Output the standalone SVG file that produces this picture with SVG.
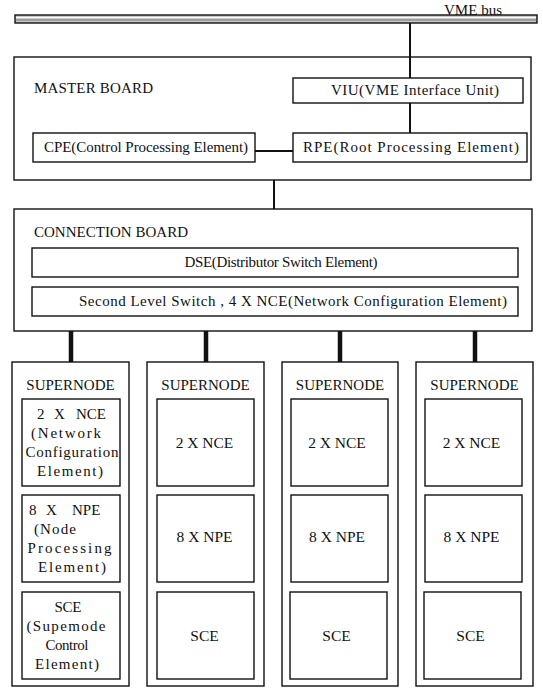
<svg xmlns="http://www.w3.org/2000/svg" width="543" height="689" viewBox="0 0 543 689">
<style>
text{font-family:"Liberation Serif","Times New Roman",serif;font-size:15px;fill:#111;}
.c{text-anchor:middle;}
.s{font-size:15.5px;}
.box{fill:#fff;stroke:#111;stroke-width:1.4;}
.line{stroke:#111;stroke-width:2;fill:none;}
.thick{stroke:#111;stroke-width:4.5;fill:none;}
</style>
<rect width="543" height="689" fill="#fff"/>
<g id="vme-bus">
<rect x="15" y="15" width="522" height="8" fill="#c8c8c8" stroke="#111" stroke-width="1.4"/>
<line x1="16" y1="17.5" x2="536" y2="17.5" stroke="#fff" stroke-width="1"/>
<line x1="16" y1="20" x2="536" y2="20" stroke="#777" stroke-width="1"/>
<text x="444" y="15" textLength="58" lengthAdjust="spacing">VME bus</text>
</g>
<g id="master-board">
<rect class="box" x="14" y="57" width="517" height="123"/>
<text x="34" y="93" textLength="119" lengthAdjust="spacing">MASTER BOARD</text>
</g>
<g id="viu">
<rect class="box" x="293" y="78" width="230" height="25"/>
<text class="c" x="415" y="95" textLength="168" lengthAdjust="spacing">VIU(VME Interface Unit)</text>
</g>
<g id="cpe">
<rect class="box" x="33" y="133" width="222" height="29"/>
<text class="c" x="146" y="152" textLength="204" lengthAdjust="spacing">CPE(Control Processing Element)</text>
</g>
<g id="rpe">
<rect class="box" x="293" y="133" width="234" height="29"/>
<text class="c" x="411" y="152" textLength="216" lengthAdjust="spacing">RPE(Root Processing Element)</text>
</g>
<g id="connection-board">
<rect class="box" x="14" y="209" width="518" height="122"/>
<text x="34" y="237" textLength="154" lengthAdjust="spacing">CONNECTION BOARD</text>
</g>
<g id="dse">
<rect class="box" x="32" y="248" width="486" height="29"/>
<text class="c" x="281" y="267" textLength="193" lengthAdjust="spacing">DSE(Distributor Switch Element)</text>
</g>
<g id="second-level-switch">
<rect class="box" x="32" y="287" width="486" height="29"/>
<text class="c" x="293" y="306" textLength="428" lengthAdjust="spacing">Second Level Switch , 4 X NCE(Network Configuration Element)</text>
</g>
<g id="supernode-1">
<rect class="box" x="12" y="362" width="117" height="324"/>
<text class="c" x="70.5" y="390">SUPERNODE</text>
<rect class="box" x="22" y="399" width="98" height="87"/>
<text y="419"><tspan x="37">2</tspan><tspan x="54">X</tspan><tspan x="76">NCE</tspan></text>
<text class="c" x="66" y="438" textLength="70" lengthAdjust="spacing">(Network</text>
<text class="c" x="72" y="457" textLength="93" lengthAdjust="spacing">Configuration</text>
<text class="c" x="70" y="476" textLength="66" lengthAdjust="spacing">Element)</text>
<rect class="box" x="22" y="495" width="98" height="87"/>
<text y="515"><tspan x="29">8</tspan><tspan x="46">X</tspan><tspan x="72">NPE</tspan></text>
<text x="34" y="534" textLength="42" lengthAdjust="spacing">(Node</text>
<text class="c" x="69.5" y="553" textLength="84" lengthAdjust="spacing">Processing</text>
<text class="c" x="72" y="572" textLength="68" lengthAdjust="spacing">Element)</text>
<rect class="box" x="22" y="592" width="98" height="87"/>
<text class="c" x="68" y="612" textLength="27" lengthAdjust="spacing">SCE</text>
<text class="c" x="66" y="631" textLength="79" lengthAdjust="spacing">(Supemode</text>
<text class="c" x="67" y="650" textLength="43" lengthAdjust="spacing">Control</text>
<text class="c" x="67" y="669" textLength="64" lengthAdjust="spacing">Element)</text>
</g>
<g id="supernode-2">
<rect class="box" x="147" y="362" width="117" height="324"/>
<text class="c" x="205.5" y="390">SUPERNODE</text>
<rect class="box" x="157" y="399" width="97" height="87"/>
<text class="c s" x="204.5" y="448">2 X NCE</text>
<rect class="box" x="157" y="495" width="97" height="87"/>
<text class="c s" x="204.5" y="542">8 X NPE</text>
<rect class="box" x="157" y="592" width="97" height="87"/>
<text class="c s" x="204.5" y="641">SCE</text>
</g>
<g id="supernode-3">
<rect class="box" x="282" y="362" width="116" height="324"/>
<text class="c" x="340" y="390">SUPERNODE</text>
<rect class="box" x="291" y="399" width="97" height="87"/>
<text class="c s" x="337" y="448">2 X NCE</text>
<rect class="box" x="291" y="495" width="97" height="87"/>
<text class="c s" x="337" y="542">8 X NPE</text>
<rect class="box" x="290" y="592" width="97" height="87"/>
<text class="c s" x="336.5" y="641">SCE</text>
</g>
<g id="supernode-4">
<rect class="box" x="416" y="362" width="117" height="324"/>
<text class="c" x="474.5" y="390">SUPERNODE</text>
<rect class="box" x="425" y="399" width="97" height="87"/>
<text class="c s" x="471.5" y="448">2 X NCE</text>
<rect class="box" x="425" y="495" width="97" height="87"/>
<text class="c s" x="471.5" y="542">8 X NPE</text>
<rect class="box" x="424" y="592" width="97" height="87"/>
<text class="c s" x="470.5" y="641">SCE</text>
</g>
<g id="connectors">
<line class="line" x1="410" y1="23" x2="410" y2="78"/>
<line class="line" x1="410" y1="103" x2="410" y2="133"/>
<line class="line" x1="255" y1="151" x2="293" y2="151"/>
<line class="line" x1="274" y1="180" x2="274" y2="209"/>
<line class="thick" x1="71" y1="331" x2="71" y2="362"/>
<line class="thick" x1="206" y1="331" x2="206" y2="362"/>
<line class="thick" x1="340" y1="331" x2="340" y2="362"/>
<line class="thick" x1="475" y1="331" x2="475" y2="362"/>
</g>
</svg>
